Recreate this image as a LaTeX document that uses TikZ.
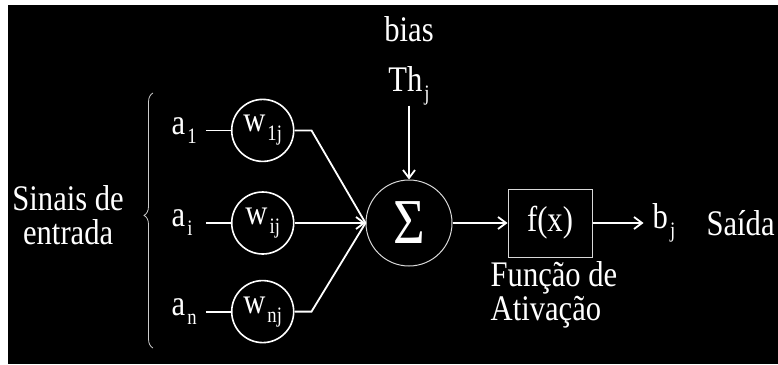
\documentclass[tikz,border=0pt]{standalone}
\usepackage{fontspec}
\setmainfont[FakeStretch=0.85]{Liberation Serif}
\usetikzlibrary{arrows.meta, positioning, decorations.pathreplacing}

\newcommand{\sbs}[1]{\hspace{2pt}\raisebox{-9pt}{\fontsize{22}{22}\selectfont #1}}

\begin{document}
\begin{tikzpicture}[
  x=1pt, y=-1pt,
  >={Straight Barb[length=8pt, width=12pt]},
  lbl/.style={text=white, inner sep=0pt, font=\fontsize{36}{34}\selectfont},
  ain/.style={lbl, text width=32pt, align=left, inner xsep=2pt},
  wgt/.style={circle, draw=white, line width=1.6pt, minimum size=62pt, inner sep=0pt, text=white, font=\fontsize{36}{34}\selectfont},
  sumnode/.style={circle, draw=white!85!black, line width=1pt, minimum size=86pt, inner sep=0pt, text=white, font=\fontsize{64}{64}\selectfont},
  fbox/.style={rectangle, draw=white!85!black, line width=1pt, minimum width=84pt, minimum height=68pt, inner sep=0pt, text=white, font=\fontsize{36}{34}\selectfont},
  wire/.style={white, line width=1.8pt}
]

% Background
\useasboundingbox (0,0) rectangle (778,364);
\fill[white] (0,0) rectangle (778,364);
\fill[black] (8,5) rectangle (778,364);

% Sum and bias
\node[sumnode] (sum) at (409,223) {Σ};
\node[lbl, above=74pt of sum] (th) {Th\sbs{j}};
\node[lbl, above=24pt of th] (bias) {bias};
\draw[->, wire] (th) -- (sum);

% Weights
\node[wgt, left=71pt of sum] (wi) {w\sbs{ij}};
\node[wgt, above=29pt of wi] (w1) {w\sbs{1j}};
\node[wgt, below=25pt of wi] (wn) {w\sbs{nj}};

% Inputs
\node[ain, left=25pt of w1] (a1) {a\sbs{1}};
\node[ain, left=25pt of wi] (ai) {a\sbs{i}};
\node[ain, left=25pt of wn] (an) {a\sbs{n}};

\foreach \i in {1,i,n} {
    \draw[wire] (a\i) -- (w\i);
}

\draw[wire] (w1.east) -- ++(17,0) -- (sum.west);
\draw[wire] (wn.east) -- ++(17,0) -- (sum.west);
\draw[->, wire] (wi) -- (sum);

\draw[white!80!black, line width=0.8pt, decorate, decoration={brace, amplitude=9pt, aspect=0.52}] (153,348) -- (153,93);
\coordinate (brtip) at (144,215);
\node[lbl, align=center, left=20pt of brtip] (sinais) {Sinais de\\entrada};

% Activation and output
\node[fbox, right=55pt of sum] (fx) {f(x)};
\draw[->, wire] (sum) -- (fx);
\node[lbl, inner xsep=9pt, right=51pt of fx] (bj) {b\sbs{j}};
\draw[->, wire] (fx) -- (bj);
\node[lbl, right=22pt of bj] (out) {Saída};
\node[lbl, align=left, below=4pt of fx, xshift=4pt] (act) {Função de\\Ativação};

\end{tikzpicture}
\end{document}
